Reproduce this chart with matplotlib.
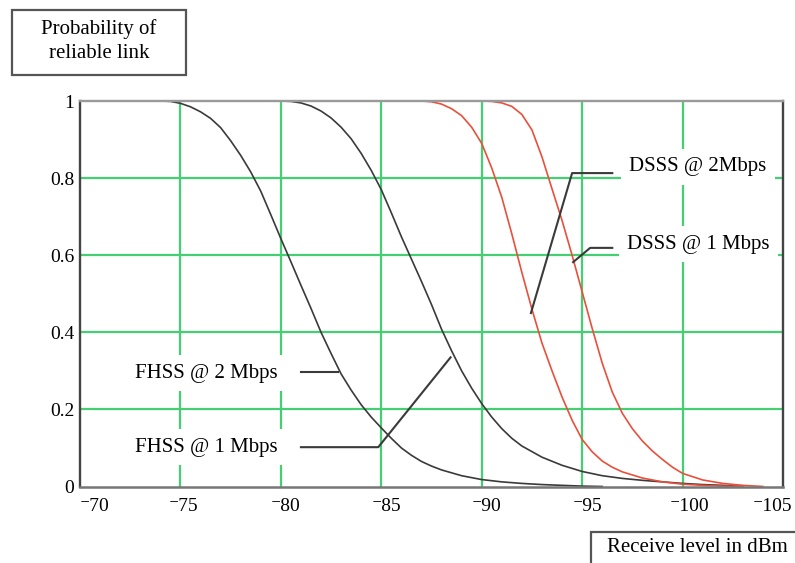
import matplotlib
matplotlib.use('Agg')
from matplotlib import pyplot as plt
from matplotlib.transforms import ScaledTranslation
from matplotlib.patches import Rectangle

# data
fhss2_x = [-74, -74.5, -75, -75.5, -76, -76.5, -77, -77.5, -78, -78.5, -79, -79.5, -80, -80.5, -81,
           -81.5, -82, -82.5, -83, -83.5, -84, -84.5, -85, -85.5, -86, -86.5, -87, -87.5, -88,
           -89, -90, -91, -92, -93, -94, -95, -96]
fhss2_y = [1.0, 0.999, 0.994, 0.985, 0.972, 0.955, 0.931, 0.897, 0.859, 0.816, 0.766, 0.705, 0.643, 0.583, 0.522,
           0.462, 0.40, 0.345, 0.292, 0.25, 0.212, 0.18, 0.152, 0.125, 0.10, 0.081, 0.065, 0.053, 0.043,
           0.028, 0.018, 0.012, 0.008, 0.005, 0.003, 0.001, 0.0]

fhss1_x = [-80, -80.5, -81, -81.5, -82, -82.5, -83, -83.5, -84, -84.5, -85, -85.5, -86, -86.5, -87,
           -87.5, -88, -88.5, -89, -89.5, -90, -90.5, -91, -91.5, -92, -93, -94, -95, -96,
           -97, -98, -99, -100, -101, -102, -103]
fhss1_y = [1.0, 0.999, 0.995, 0.987, 0.974, 0.956, 0.932, 0.902, 0.864, 0.82, 0.77, 0.71, 0.648, 0.59, 0.532,
           0.472, 0.408, 0.352, 0.30, 0.255, 0.215, 0.18, 0.15, 0.125, 0.105, 0.076, 0.055, 0.039, 0.028,
           0.021, 0.016, 0.012, 0.008, 0.005, 0.003, 0.0]

dsss2_x = [-87, -87.5, -88, -88.5, -89, -89.5, -90, -90.5, -91, -91.5, -92, -92.5, -93, -93.5, -94,
           -94.5, -95, -95.5, -96, -96.5, -97, -98, -99, -100, -101, -102, -103]
dsss2_y = [1.0, 0.998, 0.992, 0.98, 0.962, 0.932, 0.89, 0.826, 0.75, 0.655, 0.555, 0.46, 0.372, 0.30, 0.232,
           0.172, 0.122, 0.09, 0.066, 0.05, 0.038, 0.022, 0.012, 0.006, 0.003, 0.001, 0.0]

dsss1_x = [-90, -90.5, -91, -91.5, -92, -92.5, -93, -93.5, -94, -94.5, -95, -95.5, -96, -96.5, -97,
           -97.5, -98, -98.5, -99, -99.5, -100, -101, -102, -103, -104]
dsss1_y = [1.0, 0.999, 0.995, 0.986, 0.965, 0.925, 0.855, 0.772, 0.69, 0.60, 0.505, 0.41, 0.32, 0.245, 0.19,
           0.15, 0.118, 0.092, 0.07, 0.05, 0.034, 0.017, 0.008, 0.003, 0.0]

x_ticks = [-70, -75, -80, -85, -90, -95, -100, -105]
x_labels = ['\u207b70', '\u207b75', '\u207b80', '\u207b85', '\u207b90', '\u207b95', '\u207b100', '\u207b105']
y_ticks = [0, 0.2, 0.4, 0.6, 0.8, 1]
y_labels = ['0', '0.2', '0.4', '0.6', '0.8', '1']

#####################################
# style

W, H = 795, 563
plt.rcParams['font.family'] = ['Liberation Serif', 'DejaVu Serif']
plt.rcParams['font.size'] = 14
grid_col = '#45cf72'
red = '#e8503c'
dark = '#3a3a3a'

fig = plt.figure(figsize=(W/100, H/100), dpi=100)
ax = fig.add_axes([80/W, (H-486.5)/H, 703/W, 385.5/H])
ax.set_xlim(-70, -105)
ax.set_ylim(0, 1)

# grid lines (inner only, spines cover the edges)
ax.vlines(x_ticks[1:-1], 0, 1, color=grid_col, lw=1.6, zorder=1)
ax.hlines(y_ticks[1:-1], -70, -105, color=grid_col, lw=1.6, zorder=1)

# curves
ax.plot(fhss2_x, fhss2_y, color=dark, lw=1.2, zorder=2)
ax.plot(fhss1_x, fhss1_y, color=dark, lw=1.2, zorder=2)
ax.plot(dsss2_x, dsss2_y, color=red, lw=1.2, zorder=2)
ax.plot(dsss1_x, dsss1_y, color=red, lw=1.2, zorder=2)

# ticks
ax.set_xticks(x_ticks)
ax.set_xticklabels(x_labels)
ax.set_yticks(y_ticks)
ax.set_yticklabels(y_labels)
ax.tick_params(length=0, labelsize=14)
ax.tick_params(axis='x', pad=8)
ax.tick_params(axis='y', pad=4)
offsets = [15, 3, 5, 5, 5, 5, 7, -11]
for lab, dx in zip(ax.get_xticklabels(), offsets):
    lab.set_transform(lab.get_transform() + ScaledTranslation(dx/100, 0, fig.dpi_scale_trans))

for side, col, lw in [('left', '#444444', 1.7), ('right', '#444444', 1.7),
                      ('top', '#9a9a9a', 1.7), ('bottom', '#777777', 1.8)]:
    ax.spines[side].set_color(col)
    ax.spines[side].set_linewidth(lw)
    ax.spines[side].set_zorder(5)

# annotations
box = dict(fc='white', ec='none', pad=6)
ax.text(-97.35, 0.829, 'DSSS @ 2Mbps', ha='left', va='center', fontsize=15, bbox=box, zorder=3)
ax.text(-97.25, 0.629, 'DSSS @ 1 Mbps', ha='left', va='center', fontsize=15, bbox=box, zorder=3)
ax.text(-72.75, 0.294, 'FHSS @ 2 Mbps', ha='left', va='center', fontsize=15, bbox=box, zorder=3)
ax.text(-72.75, 0.102, 'FHSS @ 1 Mbps', ha='left', va='center', fontsize=15, bbox=box, zorder=3)
ax.plot([-96.5, -94.5, -92.45], [0.813, 0.813, 0.45], color=dark, lw=1.5, zorder=4)
ax.plot([-96.5, -95.4, -94.55], [0.619, 0.619, 0.582], color=dark, lw=1.5, zorder=4)
ax.plot([-81.0, -82.85], [0.297, 0.297], color=dark, lw=1.5, zorder=4)
ax.plot([-81.0, -84.85, -88.45], [0.102, 0.102, 0.335], color=dark, lw=1.5, zorder=4)

# axis title boxes
fig.add_artist(Rectangle((12/W, 1-75/H), 174/W, 65/H, transform=fig.transFigure,
                         fill=False, ec='#555555', lw=1.6))
fig.text(99/W, 1-41/H, 'Probability of\nreliable link', ha='center', va='center',
         fontsize=15, linespacing=1.35)
fig.add_artist(Rectangle((591/W, 1-580/H), 220/W, 48/H, transform=fig.transFigure,
                         fill=False, ec='#555555', lw=1.6))
fig.text(607/W, 1-547/H, 'Receive level in dBm', ha='left', va='center', fontsize=15)

fig.savefig('out.png', dpi=100)
